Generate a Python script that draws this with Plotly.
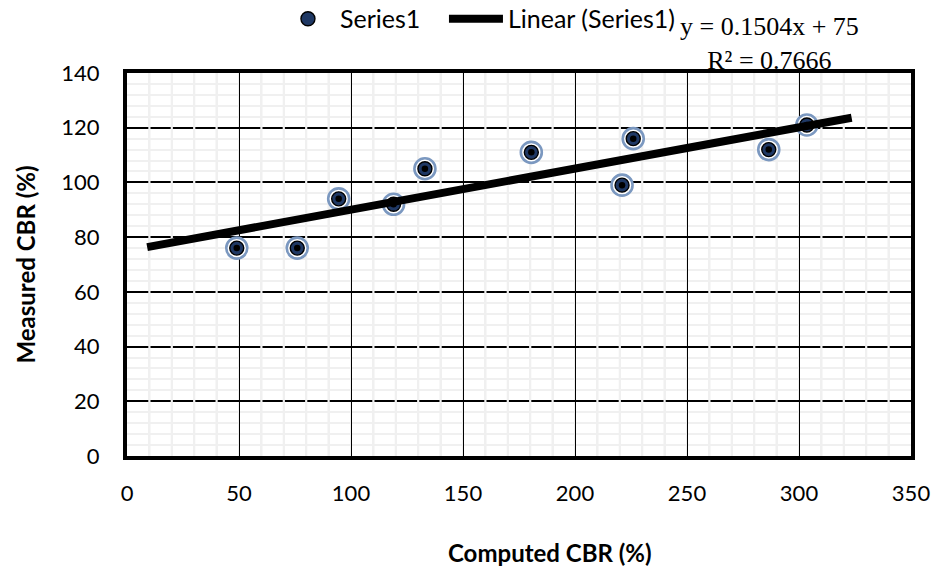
import plotly.graph_objects as go

# ---- data ----
computed_cbr = [49, 76, 94.5, 119, 133, 180.5, 221, 226, 286.5, 303.5]
measured_cbr = [76, 76, 94, 92, 105, 111, 99, 116, 112, 121]
trend_slope = 0.1504
trend_intercept = 75
trend_x = [9, 323.5]
trend_y = [trend_slope * v + trend_intercept for v in trend_x]
x_ticks = [0, 50, 100, 150, 200, 250, 300, 350]
y_ticks = [0, 20, 40, 60, 80, 100, 120, 140]
equation_text = "y = 0.1504x + 75<br>R² = 0.7666"
x_title = "<b>Computed CBR (%)</b>"
y_title = "<b>Measured CBR (%)</b>"

FONT = "Lato"
MINOR = "#f0f0f0"

fig = go.Figure()

# outer blue ring
fig.add_trace(go.Scatter(
    x=computed_cbr, y=measured_cbr, mode="markers", showlegend=False,
    hoverinfo="skip",
    marker=dict(size=21, color="white", line=dict(color="#7b98c0", width=2.6)),
))
# navy disc with black outline (legend entry)
fig.add_trace(go.Scatter(
    x=computed_cbr, y=measured_cbr, mode="markers", name="Series1",
    legendwidth=99,
    marker=dict(size=14, color="#1f3864", line=dict(color="black", width=1.4)),
))
# black center dot
fig.add_trace(go.Scatter(
    x=computed_cbr, y=measured_cbr, mode="markers", showlegend=False,
    hoverinfo="skip",
    marker=dict(size=6.5, color="black", line=dict(width=0)),
))
# trendline
fig.add_trace(go.Scatter(
    x=trend_x, y=trend_y, mode="lines", name="Linear (Series1)",
    line=dict(color="black", width=8),
))

# minor vertical gridlines painted over the major horizontal ones
for k in range(1, 35):
    xv = 10 * k
    if xv % 50 == 0:
        continue
    fig.add_shape(type="line", xref="x", yref="y", x0=xv, x1=xv, y0=0, y1=140,
                  layer="between", line=dict(color=MINOR, width=2.2))

fig.add_annotation(
    text=equation_text, xref="paper", yref="paper", x=0.82, y=1.077,
    xanchor="center", yanchor="middle", showarrow=False, align="center",
    font=dict(family="Liberation Serif", size=26, color="black"),
)
fig.add_annotation(
    text=x_title, xref="paper", yref="paper", x=0.54, y=-0.253,
    xanchor="center", yanchor="middle", showarrow=False,
    font=dict(family=FONT, size=24, color="black"),
)

fig.update_layout(
    width=933, height=566,
    margin=dict(l=127, r=22, t=73, b=110, autoexpand=False),
    paper_bgcolor="white", plot_bgcolor="white",
    font=dict(family=FONT, size=22, color="black"),
    showlegend=True,
    legend=dict(orientation="h", x=0.19, y=1.141, xanchor="left", yanchor="middle",
                font=dict(family=FONT, size=25, color="black"),
                bgcolor="rgba(0,0,0,0)", itemwidth=54),
)

fig.update_xaxes(
    range=[0, 350], tickvals=x_ticks, ticks="", showline=True, linecolor="black",
    linewidth=4, mirror=True, showgrid=True, gridcolor="black", gridwidth=1.2,
    zeroline=False, ticklabelstandoff=15, automargin=False,
    minor=dict(dtick=10, showgrid=True, gridcolor=MINOR, gridwidth=2.2, ticks=""),
)
fig.update_yaxes(
    range=[0, 140], tickvals=y_ticks, ticks="", showline=True, linecolor="black",
    linewidth=4, mirror=True, showgrid=True, gridcolor="black", gridwidth=1.5,
    zeroline=False, ticklabelstandoff=19, automargin=False,
    minor=dict(dtick=4, showgrid=True, gridcolor=MINOR, gridwidth=2.2, ticks=""),
    title=dict(text=y_title, standoff=20, font=dict(family=FONT, size=24)),
)

fig.write_html("out.html")
